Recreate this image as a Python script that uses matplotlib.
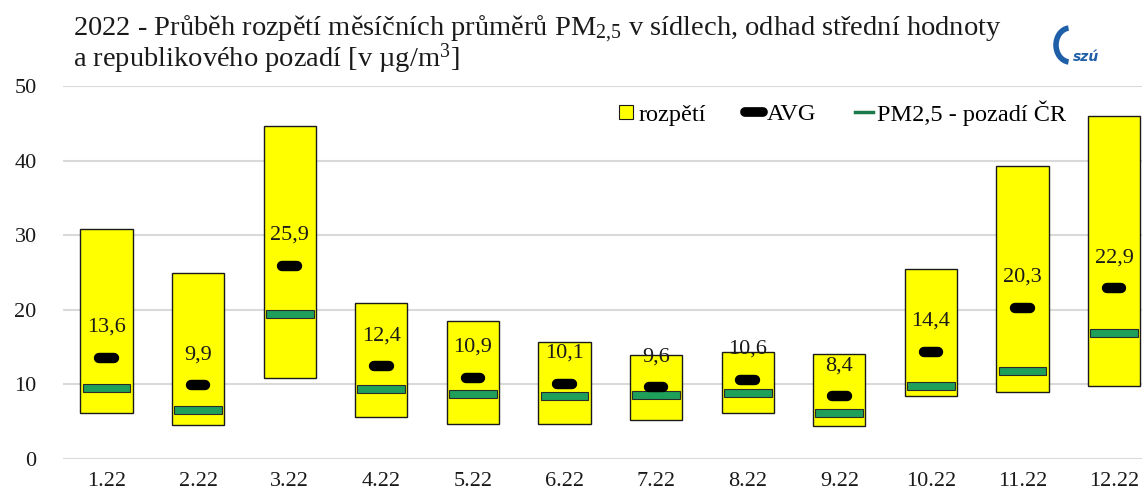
import matplotlib
matplotlib.use("Agg")
import matplotlib.pyplot as plt
import numpy as np
from matplotlib.lines import Line2D
from matplotlib.patches import Arc

months = ["1.22", "2.22", "3.22", "4.22", "5.22", "6.22", "7.22", "8.22", "9.22", "10.22", "11.22", "12.22"]
range_min = [6.2, 4.6, 10.9, 5.6, 4.7, 4.7, 5.2, 6.2, 4.4, 8.4, 9.0, 9.8]
range_max = [30.8, 24.9, 44.6, 20.9, 18.5, 15.7, 13.9, 14.4, 14.1, 25.5, 39.3, 46.0]
avg = [13.6, 9.9, 25.9, 12.4, 10.9, 10.1, 9.6, 10.6, 8.4, 14.4, 20.3, 22.9]
background = [9.5, 6.6, 19.4, 9.4, 8.7, 8.4, 8.6, 8.8, 6.2, 9.8, 11.8, 16.9]
avg_labels = ["13,6", "9,9", "25,9", "12,4", "10,9", "10,1", "9,6", "10,6", "8,4", "14,4", "20,3", "22,9"]

plt.rcParams['font.family'] = ['Liberation Serif', 'DejaVu Serif']
plt.rcParams['mathtext.fontset'] = 'custom'
plt.rcParams['mathtext.rm'] = 'Liberation Serif'
plt.rcParams['mathtext.it'] = 'Liberation Serif'
plt.rcParams['mathtext.default'] = 'regular'

W, H = 1142, 497
fig = plt.figure(figsize=(W / 100, H / 100), dpi=100)
left_px, right_px = 63, 1142
top_px, bottom_px = 86, 459
ax = fig.add_axes([left_px / W, 1 - bottom_px / H, (right_px - left_px) / W, (bottom_px - top_px) / H])

x = np.arange(len(months))
lo = np.array(range_min)
hi = np.array(range_max)
step = 91.6
first_center = 106.5

ax.bar(x, hi - lo, bottom=lo, width=0.57, color='#ffff00', edgecolor='#1a1a1a', linewidth=1.0,
       zorder=2)
bg = np.array(background)
ax.bar(x, 1.1, bottom=bg - 0.55, width=0.52, color='#1fa05a', edgecolor='#2a2a2a', linewidth=0.8,
       zorder=3)
lc = ax.hlines(avg, x - 0.08, x + 0.08, colors='black', linewidth=7.5, zorder=4)
lc.set_capstyle('round')

for xi, v, lab in zip(x, avg, avg_labels):
    ax.annotate(lab, (xi, v), xytext=(0, 22), textcoords='offset points', ha='center', va='center',
                fontsize=16, color='#1a1a1a', zorder=5)

ax.set_ylim(0, 50)
ax.set_xlim(-(first_center - left_px) / step, (right_px - first_center) / step)
ax.set_yticks(range(0, 51, 10))
ax.yaxis.grid(True, color='#d9d9d9', linewidth=1.5, zorder=0)
ax.set_axisbelow(True)
for s in ax.spines.values():
    s.set_visible(False)
ax.tick_params(axis='both', length=0, labelsize=16, colors='#1a1a1a')
ax.tick_params(axis='y', pad=19)
ax.tick_params(axis='x', pad=9)
ax.set_xticks(x)
ax.set_xticklabels(months)

# legend
handles = [
    Line2D([], [], marker='s', linestyle='none', markersize=10, markerfacecolor='#ffff00',
           markeredgecolor='#1a1a1a', markeredgewidth=0.8),
    Line2D([], [], color='black', linewidth=7, solid_capstyle='round'),
    Line2D([], [], color='#1a7a4a', linewidth=2.5),
]
leg = ax.legend(handles, ['rozpětí', 'AVG', 'PM2,5 - pozadí ČR'], ncol=3, frameon=False,
                loc='upper right',
                bbox_to_anchor=((1066 - left_px) / (right_px - left_px), (bottom_px - 100) / (bottom_px - top_px)),
                borderpad=0, borderaxespad=0,
                fontsize=17.5, handlelength=0.75, handletextpad=0.15, columnspacing=1.6)

fig.text(73 / W, 1 - 29 / H, '2022 - Průběh rozpětí měsíčních průměrů PM$_{2{,}5}$ v sídlech, odhad střední hodnoty',
         fontsize=20.5, ha='left', va='center', color='#1a1a1a')
fig.text(73 / W, 1 - 59 / H, 'a republikového pozadí [v µg/m$^{3}$]',
         fontsize=20.5, ha='left', va='center', color='#1a1a1a')
# logo
fig.add_artist(Arc((1070 / 100, (H - 45) / 100), 0.28, 0.34, theta1=95, theta2=265,
                   transform=fig.dpi_scale_trans, color='#1f5fa8', linewidth=4))
fig.text(1086 / W, 1 - 57 / H, 'szú', fontsize=10, fontstyle='italic', fontweight='bold',
         color='#1f5fa8', ha='center', va='center', family='DejaVu Sans')

fig.savefig('out.png', dpi=100)
